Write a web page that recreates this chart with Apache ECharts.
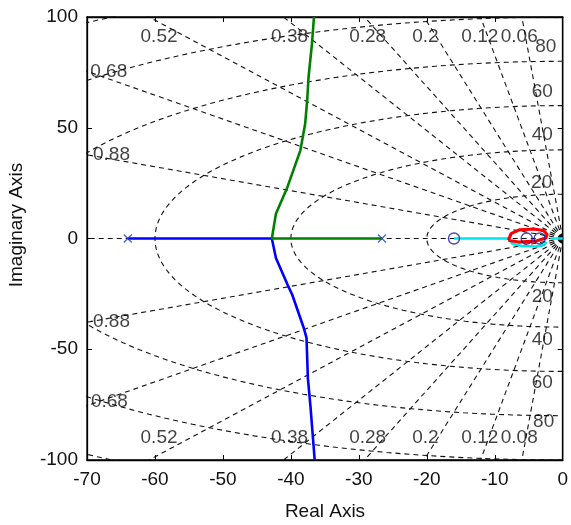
<!DOCTYPE html>
<html><head><meta charset="utf-8">
<script src="https://cdn.jsdelivr.net/npm/echarts@6/dist/echarts.min.js"></script>
<style>html,body{margin:0;padding:0;background:#fff}#c{width:571px;height:525px}</style>
</head><body><div id="c"></div>
<script>
// ---- data ----
var xTicks = [-70, -60, -50, -40, -30, -20, -10, 0];
var yTicks = [-100, -50, 0, 50, 100];
var zetaValues = [0.06, 0.12, 0.2, 0.28, 0.38, 0.52, 0.68, 0.88];
var zetaTopText = ['0.06', '0.12', '0.2', '0.28', '0.38', '0.52', '0.68', '0.88'];
var zetaBottomText = ['0.08', '0.12', '0.2', '0.28', '0.38', '0.52', '0.68', '0.88'];
var wnValues = [20, 40, 60, 80, 100, 120];
var wnLabelText = ['20', '40', '60', '80'];
// branch points (real, imag)
var blueBranch = [[-64,0],[-42.8,0],[-42.2,-8.8],[-40.5,-20.8],[-39.8,-25.4],[-38.1,-40.4],[-37.7,-44.9],[-37.5,-63],[-37.1,-76.5],[-36.6,-96],[-36.5,-100]];
var greenBranch = [[-26.6,0],[-42.8,0],[-42.2,11.2],[-40.5,23.3],[-38.6,39.8],[-37.9,51.8],[-37.6,62.4],[-37.4,72.9],[-36.9,87.9],[-36.6,100]];
var cyanBranch = [[-16,0],[-8,0],[-7.4,-2.4],[-6,-3.4],[-4,-3.6],[-2.7,-2.9],[-2.4,-1.4]];
var cyanTail = [[-1.8,0],[0,0]];
var redBranch = [[-8.0,-0.8],[-7.6,2.2],[-6.4,3.9],[-4.3,4.3],[-2.8,3.6],[-2.3,1.8],[-2.5,0.2],[-4,-1.2],[-6.5,-1.6],[-8.0,-0.8]];
var poles = [[-64,0],[-26.6,0]];
var zeros = [[-16,0],[-5.3,0],[-3.4,0]];

// ---- layout for grid label anchors (data coords) ----
var zetaTopPos = [[-6.4,91],[-12.2,91],[-20.2,91],[-28.7,91],[-40.2,91],[-59.4,91],[-66.8,75.2],[-66.4,37.7]];
var zetaBotPos = [[-6.4,-90],[-12.2,-90],[-20.2,-90],[-28.7,-90],[-40.2,-90],[-59.4,-90],[-66.7,-73.8],[-66.4,-37.7]];
var wnTopPos = [[-3.1,25.1],[-3.0,46.7],[-3.0,66.3],[-2.5,86.6]];
var wnBotPos = [[-3.0,-26.3],[-3.0,-45.8],[-3.0,-65.2],[-2.8,-82.7]];

// ---- grid geometry ----
var R = 300;
var zetaLines = [[0,0],[-R,0],'-'];
zetaValues.forEach(function(z){
  var s = Math.sqrt(1 - z*z);
  zetaLines.push([0,0],[-R*z, R*s],'-',[0,0],[-R*z,-R*s],'-');
});
var wnCircles = [];
wnValues.forEach(function(w){
  for (var a = 90; a <= 270; a += 1.5) {
    var t = a*Math.PI/180;
    wnCircles.push([w*Math.cos(t), w*Math.sin(t)]);
  }
  wnCircles.push('-');
});

var FONT = 'Liberation Sans, Arial, sans-serif';
var FS = 19;
var gridStyle = {color:'#111', width:1.1, type:[5,4]};
function labelSeries(texts, pos){
  return {
    type:'scatter', symbolSize:0, silent:true, z:5,
    data: texts.map(function(t,i){ return {value:pos[i], name:t}; }),
    label:{show:true, position:'inside', formatter:'{b}', color:'#111', fontSize:FS, fontFamily:FONT}
  };
}
var xSym = 'path://M0,0L10,10M10,0L0,10';

var chart = echarts.init(document.getElementById('c'));
var axisCommon = {
  type:'value', splitLine:{show:false},
  axisLine:{show:true, onZero:false, lineStyle:{color:'#000', width:1.3}},
  axisTick:{show:true, inside:true, length:5, lineStyle:{color:'#000'}},
  axisLabel:{color:'#111', fontSize:FS, fontFamily:FONT}
};
chart.setOption({
  animation:false,
  backgroundColor:'#fff',
  grid:{left:87, right:2, top:17, bottom:65, show:true, borderColor:'#000', borderWidth:1.3},
  xAxis:[
    Object.assign({}, axisCommon, {min:-70, max:0, interval:10, position:'bottom',
      axisLabel:Object.assign({}, axisCommon.axisLabel, {margin:10})}),
    Object.assign({}, axisCommon, {min:-70, max:0, interval:10, position:'top', axisLabel:{show:false}})
  ],
  yAxis:[
    Object.assign({}, axisCommon, {min:-100, max:100, interval:50, position:'left',
      axisLabel:Object.assign({}, axisCommon.axisLabel, {margin:9})}),
    Object.assign({}, axisCommon, {min:-100, max:100, interval:50, position:'right', axisLabel:{show:false}})
  ],
  graphic:[
    {type:'text', x:325, y:512, style:{text:'Real Axis', fontSize:FS, fontFamily:FONT, fill:'#111', textAlign:'center', textVerticalAlign:'middle'}},
    {type:'text', x:17, y:225, rotation:Math.PI/2, style:{text:'Imaginary Axis', fontSize:FS, fontFamily:FONT, fill:'#111', textAlign:'center', textVerticalAlign:'middle'}}
  ],
  series:[
    {type:'line', data:zetaLines, symbol:'none', silent:true, lineStyle:gridStyle, z:1, connectNulls:false},
    {type:'line', data:wnCircles, symbol:'none', silent:true, lineStyle:gridStyle, z:1, connectNulls:false},
    {type:'line', data:blueBranch, symbol:'none', lineStyle:{color:'#0000ff', width:2.6}, z:3},
    {type:'line', data:greenBranch, symbol:'none', lineStyle:{color:'#008000', width:2.6}, z:3},
    {type:'line', data:cyanBranch, symbol:'none', lineStyle:{color:'#00e5ee', width:2.6}, z:3},
    {type:'line', data:cyanTail, symbol:'none', lineStyle:{color:'#00e5ee', width:2.6}, z:3},
    {type:'line', data:redBranch, symbol:'none', lineStyle:{color:'#ff0000', width:3.2}, z:3},
    {type:'scatter', data:poles, symbol:xSym, symbolSize:8, itemStyle:{color:'none', borderColor:'#2040c0', borderWidth:1.4}, z:4},
    {type:'scatter', data:zeros, symbol:'circle', symbolSize:11, itemStyle:{color:'none', borderColor:'#1a1aa0', borderWidth:1.4}, z:4},
    labelSeries(zetaTopText, zetaTopPos),
    labelSeries(zetaBottomText, zetaBotPos),
    labelSeries(wnLabelText, wnTopPos),
    labelSeries(wnLabelText, wnBotPos)
  ]
});
</script></body></html>
